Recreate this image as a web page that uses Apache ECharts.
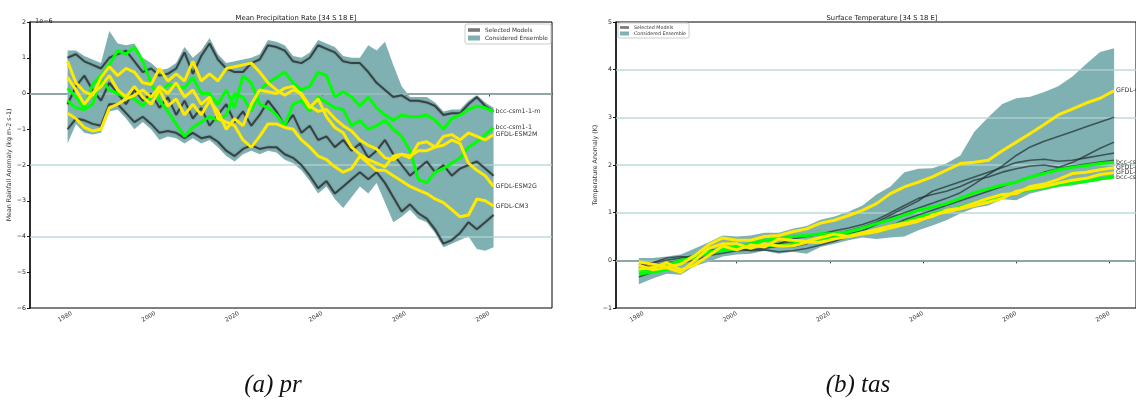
<!DOCTYPE html>
<html>
<head>
<meta charset="utf-8">
<script src="https://cdn.jsdelivr.net/npm/echarts@6/dist/echarts.min.js"></script>
<style>
  html, body { margin: 0; padding: 0; background: #fff; }
  #chart { width: 1136px; height: 401px; }
</style>
</head>
<body>
<div id="chart"></div>
<script>
// ---------- Precipitation anomaly (units of 1e-6 kg m-2 s-1), two-year steps ----------
const PR_YEARS = [1979,1981,1983,1985,1987,1989,1991,1993,1995,1997,
                  1999,2001,2003,2005,2007,2009,2011,2013,2015,2017,
                  2019,2021,2023,2025,2027,2029,2031,2033,2035,2037,
                  2039,2041,2043,2045,2047,2049,2051,2053,2055,2057,
                  2059,2061,2063,2065,2067,2069,2071,2073,2075,2077,
                  2079,2081];
const PR_ENS_HIGH = [1.2,1.2,1.05,0.95,0.85,1.75,1.4,1.35,1.4,1.0,
                     0.85,0.65,0.7,0.85,1.3,1.0,1.2,1.55,1.1,0.85,
                     0.9,0.95,1.0,1.1,1.5,1.45,1.35,1.05,1.0,1.15,
                     1.5,1.4,1.3,1.05,1.0,1.0,1.35,1.2,1.45,0.8,
                     0.2,-0.1,-0.1,-0.1,-0.25,-0.5,-0.45,-0.45,-0.2,-0.05,
                     -0.25,-0.4];
const PR_ENS_LOW = [-1.4,-0.85,-1.1,-1.15,-1.1,-0.5,-0.45,-0.7,-1.0,-0.8,
                    -1.0,-1.3,-1.2,-1.25,-1.4,-1.25,-1.4,-1.3,-1.5,-1.75,
                    -1.9,-1.7,-1.6,-1.7,-1.6,-1.65,-1.85,-1.95,-2.15,-2.45,
                    -2.8,-2.6,-2.95,-3.2,-2.9,-2.6,-2.8,-2.5,-3.05,-3.6,
                    -3.45,-3.25,-3.5,-3.6,-3.9,-4.3,-4.2,-4.1,-4.0,-4.35,
                    -4.4,-4.3];
const PR_SEL_HIGH = [1.0,1.1,0.9,0.8,0.7,1.0,1.1,1.2,0.9,0.6,
                     0.7,0.5,0.55,0.7,1.15,0.55,1.05,1.4,0.95,0.7,
                     0.6,0.6,0.85,0.95,1.35,1.3,1.2,0.9,0.85,1.0,
                     1.35,1.25,1.15,0.9,0.85,0.85,0.6,0.3,0.1,-0.1,
                     -0.05,-0.2,-0.2,-0.25,-0.35,-0.6,-0.55,-0.55,-0.3,-0.1,
                     -0.35,-0.5];
const PR_SEL_MID = [-0.3,0.2,0.5,0.1,-0.2,0.3,0.0,-0.3,0.1,-0.2,
                    0.0,-0.4,-0.1,-0.6,-0.2,-0.7,-0.4,-0.9,-0.6,-0.3,
                    -0.8,-0.5,-0.9,-0.6,-0.2,-0.5,-0.9,-0.6,-1.1,-0.9,
                    -1.3,-1.2,-1.5,-1.3,-1.6,-1.4,-1.8,-1.6,-1.3,-1.7,
                    -2.0,-2.3,-2.1,-1.9,-2.2,-2.0,-2.3,-2.1,-2.0,-1.9,
                    -2.1,-2.3];
const PR_SEL_LOW = [-1.0,-0.7,-0.75,-0.85,-0.9,-0.3,-0.3,-0.55,-0.8,-0.65,
                    -0.85,-1.1,-1.05,-1.1,-1.25,-1.1,-1.25,-1.2,-1.35,-1.6,
                    -1.75,-1.55,-1.45,-1.55,-1.5,-1.5,-1.7,-1.8,-2.0,-2.3,
                    -2.65,-2.45,-2.8,-2.6,-2.4,-2.2,-2.4,-2.2,-2.5,-2.9,
                    -3.3,-3.1,-3.35,-3.5,-3.8,-4.2,-4.1,-3.9,-3.6,-3.8,
                    -3.6,-3.4];
const PR_BCC_M = [0.15,-0.1,-0.4,0.25,0.5,0.8,1.2,1.1,1.3,0.9,
                  0.3,-0.2,-0.5,-0.85,-1.2,-0.95,-0.8,-0.65,-0.75,-0.6,
                  0.0,-0.1,-0.5,0.1,0.3,0.45,0.6,0.3,0.1,0.2,
                  0.6,0.5,-0.1,0.05,-0.1,-0.35,-0.1,-0.4,-0.6,-0.75,
                  -0.6,-0.65,-0.65,-0.6,-0.75,-1.0,-0.7,-0.6,-0.45,-0.35,
                  -0.4,-0.5];
const PR_BCC = [-0.2,-0.4,-0.45,-0.3,0.4,0.1,0.0,-0.1,-0.15,-0.35,
                -0.1,0.0,0.25,0.2,0.15,0.45,0.0,0.0,-0.3,0.1,
                -0.4,0.5,0.3,-0.3,-0.4,-0.6,-0.9,-0.3,-0.2,-0.5,
                -0.1,-0.25,-0.4,-0.45,-0.9,-0.75,-1.0,-0.9,-0.75,-1.0,
                -1.2,-1.6,-2.4,-2.5,-2.2,-2.1,-1.95,-1.8,-1.5,-1.35,
                -1.15,-0.96];
const PR_ESM2M = [0.9,0.3,0.05,-0.05,0.45,0.75,0.5,0.7,0.6,0.3,
                  0.25,0.7,0.35,0.55,0.35,0.9,0.35,0.55,0.35,0.7,
                  0.75,0.8,0.85,0.6,0.3,0.1,-0.05,0.1,0.0,-0.35,
                  -0.5,-0.45,-0.7,-0.9,-1.05,-1.3,-1.45,-1.55,-1.8,-1.85,
                  -1.7,-1.75,-1.6,-1.6,-1.5,-1.2,-1.15,-1.3,-1.1,-1.2,
                  -1.3,-1.15];
const PR_ESM2G = [0.45,0.1,-0.3,0.0,0.2,0.5,0.1,-0.1,0.2,-0.1,
                  -0.3,0.1,-0.35,-0.15,-0.6,-0.3,-0.6,-0.2,-0.5,-1.0,
                  -0.7,-0.9,-0.3,0.1,0.05,0.0,0.15,0.2,-0.05,-0.4,
                  -0.15,-0.65,-0.95,-1.1,-1.5,-1.7,-1.85,-1.95,-2.05,-1.75,
                  -1.7,-1.8,-1.4,-1.35,-1.5,-1.45,-1.3,-1.4,-1.95,-2.15,
                  -2.3,-2.6];
const PR_CM3 = [-0.55,-0.7,-0.95,-1.05,-1.0,-0.4,-0.3,-0.15,-0.05,0.1,
                -0.1,0.2,0.0,0.3,-0.1,0.1,-0.3,-0.1,-0.7,-0.8,
                -0.9,-1.3,-1.5,-1.2,-0.85,-0.85,-0.95,-1.0,-1.3,-1.5,
                -1.75,-1.85,-2.05,-2.2,-2.1,-1.75,-1.95,-2.15,-2.15,-2.3,
                -2.45,-2.6,-2.7,-2.8,-2.95,-3.05,-3.25,-3.45,-3.4,-2.95,
                -3.0,-3.15];

// ---------- Surface temperature anomaly (K), three-year steps ----------
const TAS_YEARS = [1979,1982,1985,1988,1991,1994,1997,2000,2003,2006,
                   2009,2012,2015,2018,2021,2024,2027,2030,2033,2036,
                   2039,2042,2045,2048,2051,2054,2057,2060,2063,2066,
                   2069,2072,2075,2078,2081];
const TAS_ENS_HIGH = [0.05,0.05,0.08,0.12,0.25,0.38,0.52,0.5,0.52,0.58,
                      0.58,0.66,0.72,0.85,0.92,1.02,1.15,1.38,1.55,1.85,
                      1.92,1.93,2.03,2.2,2.7,3.0,3.28,3.4,3.43,3.53,
                      3.65,3.85,4.12,4.37,4.45];
const TAS_ENS_LOW = [-0.5,-0.38,-0.28,-0.3,-0.12,-0.03,0.08,0.12,0.14,0.2,
                     0.14,0.18,0.14,0.28,0.35,0.42,0.48,0.45,0.48,0.5,
                     0.63,0.73,0.84,0.98,1.1,1.15,1.28,1.26,1.4,1.47,
                     1.54,1.57,1.62,1.67,1.72];
const TAS_SEL_1 = [-0.1,-0.05,0.0,0.05,0.1,0.2,0.25,0.3,0.28,0.3,
                   0.35,0.38,0.4,0.45,0.5,0.55,0.62,0.75,0.9,1.0,
                   1.1,1.2,1.3,1.42,1.6,1.8,1.98,2.2,2.38,2.5,
                   2.6,2.7,2.8,2.9,3.0];
const TAS_SEL_2 = [-0.15,-0.05,0.05,0.08,0.05,0.15,0.2,0.25,0.35,0.3,
                   0.35,0.45,0.5,0.55,0.62,0.68,0.75,0.85,1.0,1.15,
                   1.3,1.38,1.45,1.55,1.68,1.75,1.85,1.92,1.98,2.0,
                   1.95,2.05,2.2,2.35,2.48];
const TAS_SEL_3 = [-0.35,-0.25,-0.15,-0.05,0.0,0.1,0.15,0.2,0.22,0.25,
                   0.3,0.28,0.35,0.45,0.55,0.62,0.7,0.8,0.95,1.1,
                   1.25,1.45,1.55,1.65,1.75,1.85,1.95,2.05,2.1,2.12,
                   2.08,2.1,2.15,2.2,2.25];
const TAS_SEL_4 = [-0.2,-0.1,-0.05,0.0,0.08,0.2,0.22,0.25,0.2,0.22,
                   0.18,0.2,0.25,0.32,0.4,0.5,0.55,0.6,0.72,0.85,
                   0.95,1.05,1.15,1.25,1.35,1.45,1.55,1.65,1.75,1.85,
                   1.92,1.98,2.02,2.06,2.1];
const TAS_BCC_M = [-0.28,-0.25,-0.2,-0.05,0.1,0.15,0.25,0.28,0.35,0.42,
                   0.45,0.5,0.52,0.56,0.56,0.6,0.68,0.77,0.85,0.95,
                   1.05,1.12,1.19,1.3,1.42,1.5,1.58,1.64,1.75,1.82,
                   1.9,1.95,1.99,2.03,2.06];
const TAS_BCC = [-0.2,-0.18,-0.1,0.0,0.05,0.18,0.2,0.25,0.3,0.32,
                 0.3,0.35,0.4,0.45,0.48,0.52,0.58,0.63,0.72,0.8,
                 0.9,0.98,1.05,1.12,1.2,1.28,1.35,1.42,1.48,1.53,
                 1.58,1.62,1.66,1.71,1.75];
const TAS_ESM2M = [-0.18,-0.15,-0.05,-0.2,-0.1,0.1,0.3,0.22,0.32,0.28,
                   0.45,0.42,0.4,0.48,0.55,0.5,0.58,0.65,0.72,0.78,
                   0.85,0.92,1.05,1.1,1.2,1.3,1.38,1.4,1.55,1.6,
                   1.7,1.82,1.85,1.9,1.94];
const TAS_ESM2G = [-0.1,-0.2,-0.15,-0.25,0.0,0.25,0.35,0.35,0.25,0.35,
                   0.3,0.3,0.38,0.38,0.45,0.5,0.55,0.6,0.68,0.75,
                   0.82,0.95,1.02,1.08,1.15,1.22,1.3,1.45,1.5,1.55,
                   1.62,1.68,1.72,1.8,1.84];
const TAS_CM3 = [-0.03,-0.08,-0.14,-0.08,0.1,0.33,0.47,0.42,0.42,0.5,
                 0.52,0.6,0.66,0.78,0.84,0.94,1.05,1.19,1.4,1.54,
                 1.64,1.75,1.89,2.03,2.06,2.1,2.3,2.48,2.66,2.85,
                 3.05,3.17,3.3,3.4,3.56];

// ---------- Axis ticks and reference levels ----------
const YEAR_TICKS = [1980, 2000, 2020, 2040, 2060, 2080];
const PR_LEVELS = [0, -2, -4];
const TAS_LEVELS = [0, 1, 2, 3, 4];

// ---------- Styling ----------
const TEAL = 'rgba(95,158,160,0.8)';
const GREEN = '#00ff00';
const YELLOW = '#ffe900';
const FONT = 'DejaVu Sans';

const pairs = (years, vals) => years.map((y, i) => [y, vals[i]]);
const minus = v => String(v).replace('-', '\u2212');

// Ensemble spread: one filled polygon running along the upper edge and back along the lower edge.
function band(idx, years, low, high, levels) {
  return {
    name: 'Considered Ensemble', type: 'custom', xAxisIndex: idx, yAxisIndex: idx,
    silent: true, z: 1, clip: true,
    encode: { x: 0, y: [1, 2] },
    itemStyle: { color: TEAL },
    data: years.map((y, i) => [y, low[i], high[i]]),
    renderItem: (params, api) => {
      if (params.dataIndex !== 0) return null;
      const top = years.map((y, i) => api.coord([y, high[i]]));
      const bottom = years.map((y, i) => api.coord([y, low[i]])).reverse();
      return { type: 'polygon', shape: { points: top.concat(bottom) }, style: { fill: TEAL } };
    },
    markLine: {
      silent: true, symbol: 'none', label: { show: false }, z: 3, animation: false,
      lineStyle: { color: '#b2d3d3', width: 1.5, type: 'solid', opacity: 0.85 },
      data: levels.map(v => ({ yAxis: v }))
    }
  };
}

function selected(idx, years, vals, heavy) {
  return {
    name: 'Selected Models', type: 'line', xAxisIndex: idx, yAxisIndex: idx,
    symbol: 'none', z: 4,
    lineStyle: heavy
      ? { color: 'rgba(30,42,42,0.75)', width: 2, shadowColor: 'rgba(110,110,110,0.9)', shadowBlur: 2 }
      : { color: 'rgba(35,48,48,0.72)', width: 1.6 },
    data: pairs(years, vals)
  };
}

function model(idx, name, years, vals, color) {
  return {
    name: name, type: 'line', xAxisIndex: idx, yAxisIndex: idx,
    symbol: 'none', z: 6,
    lineStyle: { color: color, width: 3 },
    endLabel: { show: true, formatter: name, fontSize: 6.3, color: '#333', fontFamily: FONT, distance: 2 },
    data: pairs(years, vals)
  };
}

function xAxis(idx, min, max) {
  return {
    type: 'value', gridIndex: idx, min: min, max: max,
    splitLine: { show: false },
    axisLine: { show: true, lineStyle: { color: '#555', width: 2 } },
    axisTick: { show: true, length: 3, lineStyle: { color: '#333' }, customValues: YEAR_TICKS },
    axisLabel: { customValues: YEAR_TICKS, rotate: 30, fontSize: 6, color: '#333', fontFamily: FONT,
                 margin: 5, formatter: v => String(v) }
  };
}

function yAxis(idx, min, max, name, gap) {
  return {
    type: 'value', gridIndex: idx, min: min, max: max, interval: 1,
    name: name, nameLocation: 'middle', nameRotate: 90, nameGap: gap,
    nameTextStyle: { fontSize: 6.3, color: '#333', fontFamily: FONT },
    splitLine: { show: false },
    axisLine: { show: true, lineStyle: { color: '#111', width: 1.5 } },
    axisTick: { show: true, length: 3, lineStyle: { color: '#111' } },
    axisLabel: { fontSize: 6.3, color: '#222', fontFamily: FONT, margin: 4, formatter: minus }
  };
}

const legendBase = {
  orient: 'vertical', borderColor: '#cccccc', borderWidth: 1, borderRadius: 2,
  backgroundColor: 'rgba(255,255,255,0.85)', selectedMode: false
};

const option = {
  animation: false,
  backgroundColor: '#ffffff',
  title: [
    { text: 'Mean Precipitation Rate [34 S 18 E]', left: 291, top: 10, textAlign: 'center',
      textStyle: { fontSize: 6.8, fontWeight: 'normal', color: '#222', fontFamily: FONT } },
    { text: '1e\u22126', left: 30, top: 13,
      textStyle: { fontSize: 6.5, fontWeight: 'normal', color: '#222', fontFamily: FONT } },
    { text: 'Surface Temperature [34 S 18 E]', left: 877, top: 10, textAlign: 'center',
      textStyle: { fontSize: 6.8, fontWeight: 'normal', color: '#222', fontFamily: FONT } },
    { text: '(a) pr', left: 268, top: 368, textAlign: 'center',
      textStyle: { fontSize: 25, fontWeight: 'normal', fontStyle: 'italic', color: '#111', fontFamily: 'Liberation Serif' } },
    { text: '(b) tas', left: 853, top: 368, textAlign: 'center',
      textStyle: { fontSize: 25, fontWeight: 'normal', fontStyle: 'italic', color: '#111', fontFamily: 'Liberation Serif' } }
  ],
  legend: [
    Object.assign({}, legendBase, {
      left: 465, top: 24, padding: [3, 3, 3, 3], itemGap: 2, itemWidth: 12, itemHeight: 5,
      textStyle: { fontSize: 5.8, color: '#333', fontFamily: FONT },
      data: [
        { name: 'Selected Models', icon: 'path://M0,3.5H10V6.5H0Z', itemStyle: { color: '#7a7a7a' } },
        { name: 'Considered Ensemble', icon: 'rect', itemStyle: { color: TEAL } }
      ]
    }),
    Object.assign({}, legendBase, {
      left: 618, top: 23, padding: [2, 3, 2, 2], itemGap: 1, itemWidth: 9, itemHeight: 4,
      textStyle: { fontSize: 4.8, color: '#333', fontFamily: FONT },
      data: [
        { name: 'Selected Models', icon: 'path://M0,3.5H10V6.5H0Z', itemStyle: { color: '#7a7a7a' } },
        { name: 'Considered Ensemble', icon: 'rect', itemStyle: { color: TEAL } }
      ]
    })
  ],
  grid: [
    { left: 30, top: 22, width: 522, height: 286, show: true, borderColor: '#000', borderWidth: 1 },
    { left: 616, top: 22, width: 520, height: 286, show: true, borderColor: '#000', borderWidth: 1 }
  ],
  xAxis: [xAxis(0, 1970, 2095), xAxis(1, 1974.1, 2085.7)],
  yAxis: [
    yAxis(0, -6, 2, 'Mean Rainfall Anomaly (kg m-2 s-1)', 11),
    yAxis(1, -1, 5, 'Temperature Anomaly (K)', 12)
  ],
  series: [
    band(0, PR_YEARS, PR_ENS_LOW, PR_ENS_HIGH, PR_LEVELS),
    selected(0, PR_YEARS, PR_SEL_HIGH, true),
    selected(0, PR_YEARS, PR_SEL_MID, true),
    selected(0, PR_YEARS, PR_SEL_LOW, true),
    model(0, 'bcc-csm1-1-m', PR_YEARS, PR_BCC_M, GREEN),
    model(0, 'bcc-csm1-1', PR_YEARS, PR_BCC, GREEN),
    model(0, 'GFDL-ESM2M', PR_YEARS, PR_ESM2M, YELLOW),
    model(0, 'GFDL-ESM2G', PR_YEARS, PR_ESM2G, YELLOW),
    model(0, 'GFDL-CM3', PR_YEARS, PR_CM3, YELLOW),
    band(1, TAS_YEARS, TAS_ENS_LOW, TAS_ENS_HIGH, TAS_LEVELS),
    selected(1, TAS_YEARS, TAS_SEL_1, false),
    selected(1, TAS_YEARS, TAS_SEL_2, false),
    selected(1, TAS_YEARS, TAS_SEL_3, false),
    selected(1, TAS_YEARS, TAS_SEL_4, false),
    model(1, 'bcc-csm1-1-m', TAS_YEARS, TAS_BCC_M, GREEN),
    model(1, 'bcc-csm1-1', TAS_YEARS, TAS_BCC, GREEN),
    model(1, 'GFDL-ESM2M', TAS_YEARS, TAS_ESM2M, YELLOW),
    model(1, 'GFDL-ESM2G', TAS_YEARS, TAS_ESM2G, YELLOW),
    model(1, 'GFDL-CM3', TAS_YEARS, TAS_CM3, YELLOW)
  ]
};

const chart = echarts.init(document.getElementById('chart'), null, { renderer: 'canvas' });
chart.setOption(option);
</script>
</body>
</html>
